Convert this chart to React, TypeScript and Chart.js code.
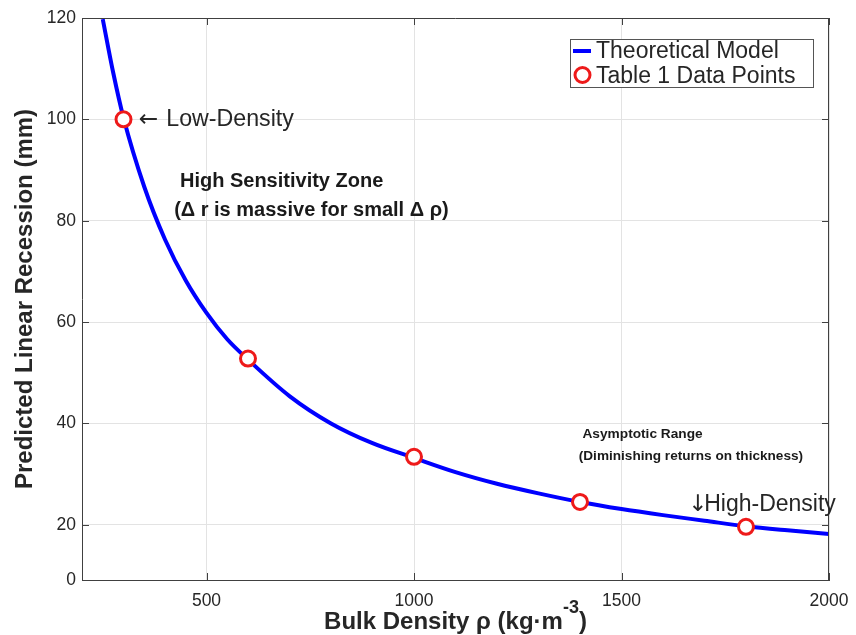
import React, { useEffect, useRef } from 'react';
import { Chart, registerables } from 'chart.js';

Chart.register(...registerables);

// ---- data ----
const curveDensity = [250, 275, 300, 350, 400, 450, 500, 550, 600, 700, 800, 900, 1000, 1100, 1200, 1300, 1400, 1500, 1600, 1700, 1800, 1900, 2000];
const curveRecession = [119.8, 109.3, 100.3, 86.7, 76.3, 68.2, 61.8, 56.6, 52.6, 45.4, 40.0, 36.1, 33.2, 30.4, 28.1, 26.2, 24.5, 23.1, 21.9, 20.8, 19.7, 18.9, 18.2];
const tableDensity = [300, 600, 1000, 1400, 1800];
const tableRecession = [100, 52.8, 33.4, 24.5, 19.6];
const xTicks = [500, 1000, 1500, 2000];
const yTicks = [20, 40, 60, 80, 100, 120];
const yFloor = 9.1; // bottom of the y axis, labelled "0" in the reference
const xMin = 200;
const xMax = 2000;
const yMax = 120;

const seriesNames = ['Theoretical Model', 'Table 1 Data Points'];
const xTitleMain = 'Bulk Density ρ (kg·m';
const xTitleSup = '-3';
const xTitleEnd = ')';
const yTitle = 'Predicted Linear Recession (mm)';

const notes = [
  { arrow: '←', gap: 8, text: 'Low-Density', x: 337, y: 99.9, weight: 'normal', size: 23.2 },
  { arrow: '', gap: 0, text: 'High Sensitivity Zone', x: 436, y: 87.8, weight: 'bold', size: 20 },
  { arrow: '', gap: 0, text: '(Δ r is massive for small Δ ρ)', x: 422, y: 82.1, weight: 'bold', size: 20 },
  { arrow: '', gap: 0, text: 'Asymptotic Range', x: 1406, y: 37.9, weight: 'bold', size: 13.7 },
  { arrow: '', gap: 0, text: '(Diminishing returns on thickness)', x: 1397, y: 33.6, weight: 'bold', size: 13.6 },
  { arrow: '↓', gap: -3, text: 'High-Density', x: 1660, y: 23.9, weight: 'normal', size: 23 },
];

const FONT = '"Liberation Sans", Arial, Helvetica, sans-serif';
const ARROW_FONT = '"DejaVu Sans", sans-serif';
const TEXT = '#262626';
const BLUE = '#0000ff';
const RED = '#ee1a1a';
const AXIS = '#404040';
const GRID = '#e3e3e3';

const framePlugin = {
  id: 'frame',
  afterDraw(chart: any) {
    const { ctx, chartArea: a, scales } = chart;
    ctx.save();
    ctx.strokeStyle = AXIS;
    ctx.lineWidth = 1;
    ctx.beginPath();
    ctx.moveTo(a.left, a.top + 0.5);
    ctx.lineTo(a.right, a.top + 0.5);
    ctx.moveTo(a.right - 0.5, a.top);
    ctx.lineTo(a.right - 0.5, a.bottom);
    const tl = 7;
    xTicks.forEach((v) => {
      const px = Math.round(scales.x.getPixelForValue(v)) + 0.5;
      ctx.moveTo(px, a.bottom);
      ctx.lineTo(px, a.bottom - tl);
      ctx.moveTo(px, a.top);
      ctx.lineTo(px, a.top + tl);
    });
    yTicks.forEach((v) => {
      const py = Math.round(scales.y.getPixelForValue(v)) + 0.5;
      ctx.moveTo(a.left, py);
      ctx.lineTo(a.left + tl, py);
      ctx.moveTo(a.right, py);
      ctx.lineTo(a.right - tl, py);
    });
    ctx.stroke();

    // annotations
    notes.forEach((n) => {
      let px = scales.x.getPixelForValue(n.x);
      const py = scales.y.getPixelForValue(n.y);
      ctx.textAlign = 'left';
      ctx.textBaseline = 'middle';
      ctx.fillStyle = n.weight === 'bold' ? '#1a1a1a' : TEXT;
      if (n.arrow) {
        ctx.font = `${n.size}px ${ARROW_FONT}`;
        ctx.fillText(n.arrow, px, py);
        px += ctx.measureText(n.arrow).width + n.gap;
      }
      ctx.font = `${n.weight} ${n.size}px ${FONT}`;
      ctx.fillText(n.text, px, py);
    });

    // legend
    const lw = 243, lh = 48;
    const lx = a.right - 16 - lw;
    const ly = a.top + 21;
    ctx.fillStyle = '#ffffff';
    ctx.fillRect(lx, ly, lw, lh);
    ctx.strokeStyle = '#555555';
    ctx.lineWidth = 1;
    ctx.strokeRect(lx + 0.5, ly + 0.5, lw, lh);
    ctx.strokeStyle = BLUE;
    ctx.lineWidth = 4;
    ctx.beginPath();
    ctx.moveTo(lx + 3, ly + 12);
    ctx.lineTo(lx + 21, ly + 12);
    ctx.stroke();
    ctx.strokeStyle = RED;
    ctx.lineWidth = 3;
    ctx.fillStyle = '#ffffff';
    ctx.beginPath();
    ctx.arc(lx + 12.5, ly + 36, 7.5, 0, Math.PI * 2);
    ctx.fill();
    ctx.stroke();
    ctx.fillStyle = TEXT;
    ctx.font = `23px ${FONT}`;
    ctx.textBaseline = 'alphabetic';
    ctx.fillText(seriesNames[0], lx + 26, ly + 19);
    ctx.fillText(seriesNames[1], lx + 26, ly + 44);

    // axis titles
    ctx.fillStyle = TEXT;
    ctx.font = `bold 24px ${FONT}`;
    ctx.save();
    ctx.translate(32, (a.top + a.bottom) / 2);
    ctx.rotate(-Math.PI / 2);
    ctx.textAlign = 'center';
    ctx.fillText(yTitle, 0, 0);
    ctx.restore();

    const mainW = ctx.measureText(xTitleMain).width;
    const endW = ctx.measureText(xTitleEnd).width;
    ctx.font = `bold 18px ${FONT}`;
    const supW = ctx.measureText(xTitleSup).width;
    const total = mainW + supW + endW;
    let x0 = (a.left + a.right) / 2 - total / 2;
    ctx.textAlign = 'left';
    ctx.font = `bold 24px ${FONT}`;
    ctx.fillText(xTitleMain, x0, 629);
    x0 += mainW;
    ctx.font = `bold 18px ${FONT}`;
    ctx.fillText(xTitleSup, x0, 613);
    x0 += supW;
    ctx.font = `bold 24px ${FONT}`;
    ctx.fillText(xTitleEnd, x0, 629);
    ctx.restore();
  },
};

export default function App() {
  const ref = useRef<HTMLCanvasElement>(null);
  useEffect(() => {
    const chart = new Chart(ref.current as HTMLCanvasElement, {
      type: 'scatter',
      data: {
        datasets: [
          {
            label: seriesNames[1],
            data: tableDensity.map((x, i) => ({ x, y: tableRecession[i] })),
            showLine: false,
            pointRadius: 7.5,
            pointBorderWidth: 3,
            pointBorderColor: RED,
            pointBackgroundColor: '#ffffff',
            order: 0,
          },
          {
            label: seriesNames[0],
            data: curveDensity.map((x, i) => ({ x, y: curveRecession[i] })),
            showLine: true,
            borderColor: BLUE,
            borderWidth: 4,
            pointRadius: 0,
            cubicInterpolationMode: 'monotone',
            order: 1,
          },
        ],
      },
      options: {
        animation: false,
        responsive: false,
        layout: { padding: { top: 18, right: 27, left: 0, bottom: 0 } },
        plugins: { legend: { display: false }, tooltip: { enabled: false } },
        scales: {
          x: {
            type: 'linear',
            min: xMin,
            max: xMax,
            afterBuildTicks: (s: any) => {
              s.ticks = xTicks.map((v) => ({ value: v }));
            },
            afterFit: (s: any) => {
              s.height = 55;
              s.paddingLeft = 0;
              s.paddingRight = 0;
            },
            grid: { color: GRID, drawTicks: false },
            border: { color: AXIS, width: 1 },
            ticks: {
              padding: 11,
              color: TEXT,
              font: { family: FONT, size: 17.5 },
              callback: (v: any) => String(v),
            },
          },
          y: {
            type: 'linear',
            min: yFloor,
            max: yMax,
            afterBuildTicks: (s: any) => {
              s.ticks = [yFloor, ...yTicks].map((v) => ({ value: v }));
            },
            afterFit: (s: any) => {
              s.width = 82;
              s.paddingTop = 0;
              s.paddingBottom = 0;
            },
            grid: { color: GRID, drawTicks: false },
            border: { color: AXIS, width: 1 },
            ticks: {
              padding: 6,
              color: TEXT,
              font: { family: FONT, size: 17.5 },
              callback: (v: any) => (v < 10 ? '0' : String(v)),
            },
          },
        },
      },
      plugins: [framePlugin],
    } as any);
    return () => chart.destroy();
  }, []);
  return (
    <div style={{ position: 'fixed', left: 0, top: 0, width: 856, height: 635, background: '#ffffff' }}>
      <canvas ref={ref} width={856} height={635} style={{ display: 'block' }} />
    </div>
  );
}
